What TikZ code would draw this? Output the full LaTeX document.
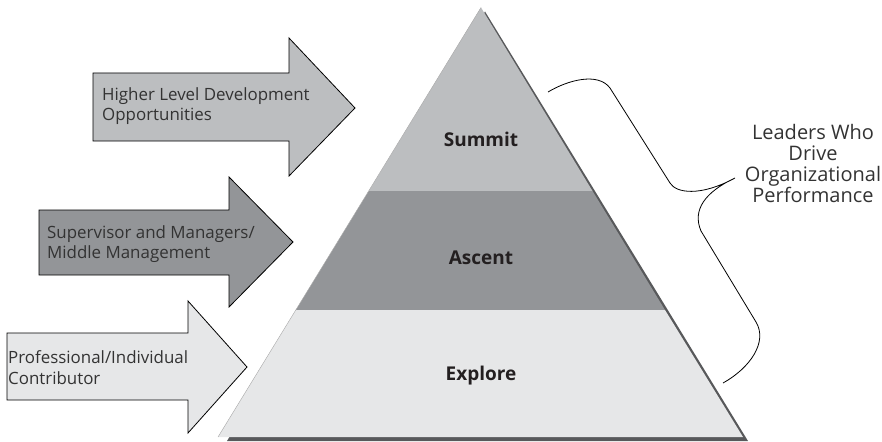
\documentclass[tikz,border=0pt]{standalone}
\usepackage{fontspec}
\setmainfont{Open Sans}
\definecolor{summitc}{HTML}{BCBEC0}
\definecolor{ascentc}{HTML}{939598}
\definecolor{explorec}{HTML}{E6E7E8}
\definecolor{shadowc}{HTML}{58595B}
\definecolor{textc}{HTML}{333333}
\definecolor{boldc}{HTML}{231F20}
\begin{document}
\begin{tikzpicture}[x=1pt,y=-1pt,
  arrowshape/.style={draw=black,line width=0.8pt,line join=miter},
  armlabel/.style={anchor=west,align=left,text=textc,font=\fontsize{16.9}{20.7}\selectfont,inner sep=0pt},
  layerlabel/.style={text=boldc,font=\fontsize{19}{22}\selectfont\bfseries,inner sep=0pt},
  sidelabel/.style={align=center,text=textc,font=\fontsize{20}{21.3}\selectfont,inner sep=0pt},
  bracec/.style={draw=black,line width=0.8pt}]
\useasboundingbox (0,0) rectangle (882,441);
% pyramid geometry
\coordinate (apex) at (481,7.5);
\coordinate (bl) at (218,437);
\coordinate (br) at (743,437);
\coordinate (s1l) at (368.8,191);
\coordinate (s1r) at (592.5,191);
\coordinate (s2l) at (295.9,310);
\coordinate (s2r) at (665,310);
% shadow
\fill[shadowc] ([shift={(4,4)}]apex) -- ([shift={(5,4)}]br) -- ([shift={(9,4)}]bl) -- cycle;
% layers
\fill[summitc] (apex) -- (s1r) -- (s1l) -- cycle;
\fill[ascentc] (s1l) -- (s1r) -- (s2r) -- (s2l) -- cycle;
\fill[explorec] (s2l) -- (s2r) -- (br) -- (bl) -- cycle;
\draw[gray!70,line width=0.4pt] (apex) -- (bl);
\node[layerlabel] (summit) at (481,139) {Summit};
\node[layerlabel] (ascent) at (481,258) {Ascent};
\node[layerlabel] (explore) at (481,376) {Explore};
% arrows
\filldraw[arrowshape,fill=summitc] (93,73) -- (289,73) -- (289,38) -- (355,108) -- (289,176) -- (289,141) -- (93,141) -- cycle;
\node[armlabel] (a1) at (102,106) {Higher Level Development\\Opportunities};
\filldraw[arrowshape,fill=ascentc] (39,210) -- (229,210) -- (229,177) -- (293,242) -- (229,307) -- (229,275) -- (39,275) -- cycle;
\node[armlabel] (a2) at (47,244) {Supervisor and Managers/\\Middle Management};
\filldraw[arrowshape,fill=explorec] (7,333) -- (188,333) -- (188,301) -- (247,367) -- (188,433) -- (188,400) -- (7,400) -- cycle;
\node[armlabel] (a3) at (8,367.5) {Professional/Individual\\Contributor};
% brace
\draw[bracec] (548,92) .. controls (568,80) and (598,72) .. (610,88) -- (670,183) .. controls (676,193) and (700,197) .. (735,178) .. controls (705,192) and (692,210) .. (701,231) -- (756,322) .. controls (768,342) and (750,368) .. (723,383);
\node[sidelabel] (lead) at (813,163.5) {Leaders Who\\Drive\\Organizational\\Performance};
\end{tikzpicture}
\end{document}
